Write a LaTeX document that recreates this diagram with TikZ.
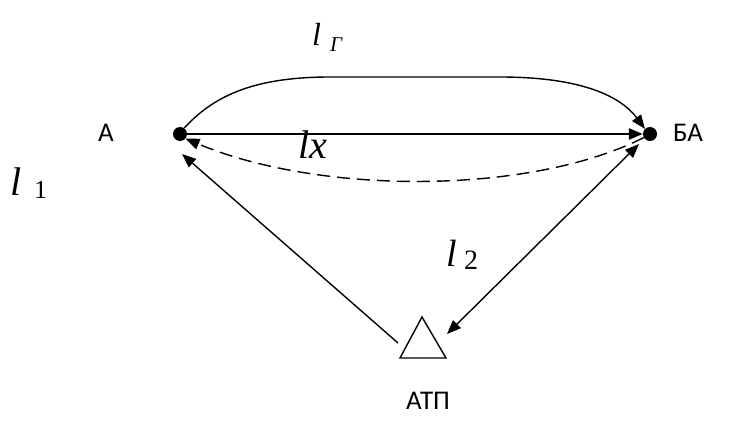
\documentclass[tikz,border=0pt]{standalone}
\usepackage{fontspec}
\setmainfont{Liberation Serif}
\newfontfamily\lblfont{Carlito}
\usetikzlibrary{arrows.meta}
\tikzset{
  pt/.style={circle,fill=black,inner sep=0pt,minimum size=14pt},
  lbl/.style={font=\lblfont\fontsize{27}{30}\selectfont,inner sep=0pt,anchor=base},
  mth/.style={inner sep=0pt,anchor=base west},
  conn/.style={line width=1.4pt,-{Triangle[length=14pt,width=11pt]}},
}
\begin{document}
\begin{tikzpicture}[x=1pt,y=-1pt]
\useasboundingbox (0,0) rectangle (734,425);
\node[pt] (A) at (180,134) {};
\node[pt] (B) at (650,134) {};
\coordinate (T1) at (422,317);
\coordinate (T2) at (400,358);
\coordinate (T3) at (446,358);
\draw[line width=1.4pt,line join=miter] (T1) -- (T2) -- (T3) -- cycle;
\coordinate (Tl) at (398,343);
\coordinate (Tr) at (447,334);
\coordinate (Ain) at (182,154);
\coordinate (Bin) at (639,144);
\coordinate (c1) at (330,77);
\coordinate (c2) at (500,77);
% labels
\node[lbl] (la) at (106,142) {А};
\node[lbl] (lb) at (688,142) {БА};
\node[lbl] (lt) at (428,409) {АТП};
\node[mth] (lx) at (298,159) {\fontsize{40}{44}\selectfont\itshape lx};
\node[mth] (lg) at (312,46) {\fontsize{32}{36}\selectfont\itshape l};
\node[mth] (lgs) at (330,52) {\fontsize{21}{26}\selectfont\itshape Г};
\node[mth] (l1) at (10,196) {\fontsize{40}{44}\selectfont\itshape l};
\node[mth] (l1s) at (34,199) {\fontsize{26}{30}\selectfont 1};
\node[mth] (l2) at (446,266) {\fontsize{38}{42}\selectfont\itshape l};
\node[mth] (l2s) at (464,269) {\fontsize{28}{32}\selectfont 2};
% connectors
\draw[conn,line width=2.4pt] (A) -- (B);
\draw[conn] (A.55) .. controls (212,98) and (250,77) .. (c1) -- (c2) .. controls (585,77) and (622,98) .. (B.135);
\draw[conn,dashed,dash pattern=on 13pt off 7pt] (B.-150) .. controls (530,195) and (320,195) .. (A.-40);
\draw[conn] (Tl) -- (Ain);
\draw[line width=1.4pt,{Triangle[length=14pt,width=11pt]}-{Triangle[length=14pt,width=11pt]}] (Bin) -- (Tr);
\end{tikzpicture}
\end{document}
